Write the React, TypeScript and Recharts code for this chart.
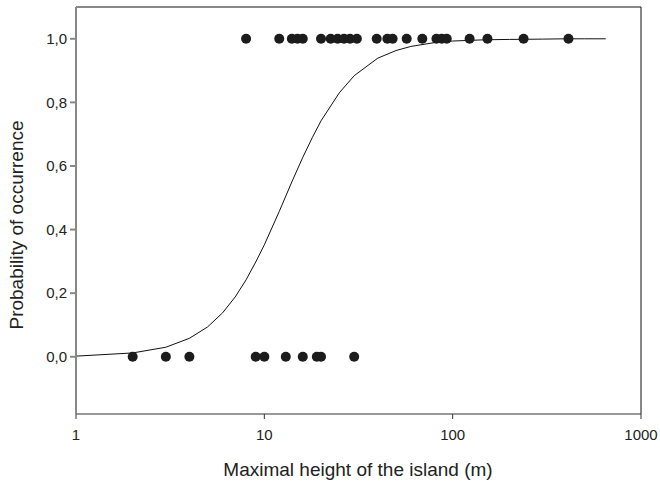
import React from "react";
import {
  ComposedChart,
  Line,
  Scatter,
  XAxis,
  YAxis,
  ReferenceLine,
  Label,
} from "recharts";

// Observed islands: maximal height (m) and occurrence (1 = present, 0 = absent)
const presentHeights = [8, 12, 14, 15, 16, 20, 22.5, 24.5, 26.5, 28.5, 31, 39.5, 45, 48, 57, 69, 82, 87.5, 93, 123, 153, 238, 412];
const absentHeights = [2, 3, 4, 9, 10, 13, 16, 19, 20, 30];

// Fitted logistic curve
const curveX = [1, 2, 3, 4, 5, 6, 7, 8, 9, 10, 12, 14, 16, 18, 20, 25, 30, 40, 50, 60, 80, 100, 150, 200, 300, 400, 500, 650];
const curveY = [0.002, 0.012, 0.03, 0.058, 0.094, 0.138, 0.188, 0.242, 0.298, 0.352, 0.457, 0.55, 0.627, 0.69, 0.742, 0.83, 0.884, 0.939, 0.963, 0.976, 0.988, 0.993, 0.997, 0.998, 0.999, 1.0, 1.0, 1.0];

const xTicks = [1, 10, 100, 1000];
const yTicks = [0, 0.2, 0.4, 0.6, 0.8, 1.0];

const points = [
  ...presentHeights.map((x) => ({ x, y: 1 })),
  ...absentHeights.map((x) => ({ x, y: 0 })),
];
const curve = curveX.map((x, i) => ({ x, y: curveY[i] }));

const FONT = "'Liberation Sans', Arial, Helvetica, sans-serif";

const Dot = (props: any) => {
  const { cx, cy } = props;
  if (cx == null || cy == null) return null;
  return <circle cx={cx} cy={cy} r={5} fill="#1c1c1c" />;
};

export default function App() {
  return (
    <div style={{ position: "absolute", left: 0, top: 0, width: 660, height: 482, background: "#fff", fontFamily: FONT }}>
      <ComposedChart
        width={660}
        height={482}
        margin={{ top: 7, right: 19, left: 0, bottom: 0 }}
      >
        <XAxis
          dataKey="x"
          type="number"
          scale="log"
          domain={[1, 1000]}
          ticks={xTicks}
          allowDataOverflow
          height={68}
          tickSize={5}
          tickMargin={10}
          stroke="#333"
          tick={{ fill: "#222", fontSize: 15, fontFamily: FONT }}
          tickFormatter={(v: number) => String(v)}
        >
          <Label
            content={() => (
              <text x={358} y={476} textAnchor="middle" fill="#222" fontSize={19} fontFamily={FONT}>
                Maximal height of the island (m)
              </text>
            )}
          />
        </XAxis>
        <YAxis
          dataKey="y"
          type="number"
          domain={[-0.18, 1.1]}
          ticks={yTicks}
          allowDataOverflow
          width={76}
          tickSize={6}
          tickMargin={3}
          stroke="#888"
          strokeWidth={2}
          tick={{ fill: "#222", fontSize: 15, fontFamily: FONT }}
          tickFormatter={(v: number) => v.toFixed(1).replace(".", ",")}
        >
          <Label
            content={() => (
              <text
                x={23}
                y={225}
                textAnchor="middle"
                fill="#222"
                fontSize={19}
                fontFamily={FONT}
                transform="rotate(-90, 23, 225)"
              >
                Probability of occurrence
              </text>
            )}
          />
        </YAxis>
        <ReferenceLine y={1.1} stroke="#111" strokeWidth={1} ifOverflow="visible" />
        <ReferenceLine x={1000} stroke="#111" strokeWidth={1} ifOverflow="visible" />
        <Line
          data={curve}
          dataKey="y"
          type="linear"
          stroke="#111"
          strokeWidth={1}
          dot={false}
          activeDot={false}
          isAnimationActive={false}
        />
        <Scatter data={points} dataKey="y" shape={<Dot />} isAnimationActive={false} />
      </ComposedChart>
    </div>
  );
}
